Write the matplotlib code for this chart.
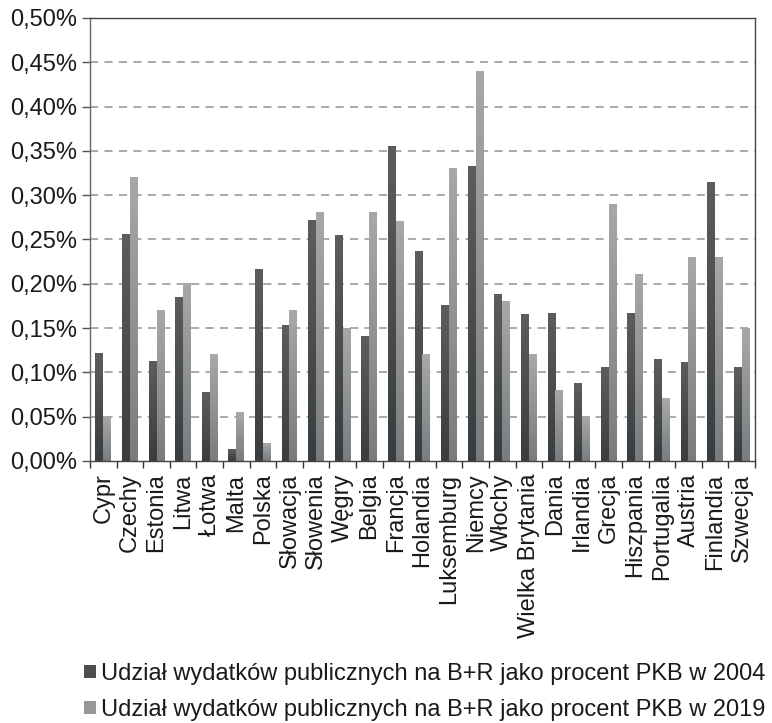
import numpy as np
import matplotlib
matplotlib.use("Agg")
import matplotlib.pyplot as plt
from matplotlib.colors import LinearSegmentedColormap
from matplotlib.patches import Patch
from matplotlib.ticker import FixedLocator, FuncFormatter

plt.rcParams['font.family'] = ['Liberation Sans', 'DejaVu Sans']

# data (share of GDP, %)
countries = ['Cypr', 'Czechy', 'Estonia', 'Litwa', 'Łotwa', 'Malta', 'Polska',
             'Słowacja', 'Słowenia', 'Węgry', 'Belgia', 'Francja', 'Holandia',
             'Luksemburg', 'Niemcy', 'Włochy', 'Wielka Brytania', 'Dania',
             'Irlandia', 'Grecja', 'Hiszpania', 'Portugalia', 'Austria',
             'Finlandia', 'Szwecja']
share_2004 = [0.121, 0.256, 0.112, 0.185, 0.077, 0.013, 0.216, 0.153, 0.272,
              0.254, 0.141, 0.355, 0.237, 0.175, 0.332, 0.188, 0.165, 0.166,
              0.088, 0.105, 0.166, 0.114, 0.111, 0.314, 0.105]
share_2019 = [0.05, 0.32, 0.17, 0.20, 0.12, 0.055, 0.02, 0.17, 0.28,
              0.15, 0.28, 0.27, 0.12, 0.33, 0.44, 0.18, 0.12, 0.08,
              0.05, 0.29, 0.21, 0.07, 0.23, 0.23, 0.15]
labels = ['Udział wydatków publicznych na B+R jako procent PKB w 2004',
          'Udział wydatków publicznych na B+R jako procent PKB w 2019']

fig = plt.figure(figsize=(7.72, 7.23), dpi=100)
ax = fig.add_axes([90/772, 1-461/723, (755-90)/772, (461-18)/723])

x = np.arange(len(countries))
w = 0.295
fs = 17

#gradient fill per bar (lighter top, darker bottom)
cm_dark = LinearSegmentedColormap.from_list('dark', ['#3a3d3f', '#5b5d5e'])
cm_light = LinearSegmentedColormap.from_list('light', ['#797c7e', '#a6a8a9'])
grad = np.linspace(1, 0, 256).reshape(-1, 1)

def gradient_bars(xs, heights, cmap):
    bars = ax.bar(xs, heights, w, color='none', edgecolor='none', zorder=2)
    for rect in bars:
        x0 = rect.get_x()
        ax.imshow(grad, extent=[x0, x0 + rect.get_width(), 0, rect.get_height()],
                  cmap=cmap, aspect='auto', zorder=2, interpolation='bilinear')
    return bars

gradient_bars(x - w/2, share_2004, cm_dark)
gradient_bars(x + w/2, share_2019, cm_light)

ax.set_xlim(-0.5, len(countries) - 0.5)
ax.set_ylim(0, 0.5)

#grid + axis styling
for v in np.arange(0.05, 0.5, 0.05):
    ax.axhline(v, color='#a3a3a3', lw=1.3, ls=(0, (4.5, 3.5)), zorder=1)

ax.set_yticks(np.arange(0, 0.501, 0.05))
ax.yaxis.set_major_formatter(FuncFormatter(lambda v, p: f"{v:.2f}%".replace('.', ',')))
ax.tick_params(axis='y', length=6, width=1, color='#555555', labelsize=fs,
               labelcolor='#1a1a1a', pad=3)

ax.set_xticks(x)
ax.set_xticklabels(countries, rotation=90, fontsize=fs, color='#1a1a1a')
ax.xaxis.set_minor_locator(FixedLocator(np.arange(-0.5, len(countries), 1)))
ax.tick_params(axis='x', which='major', length=0, pad=9)
ax.tick_params(axis='x', which='minor', length=5, width=1, color='#333333')

for side in ['left', 'right', 'top', 'bottom']:
    ax.spines[side].set_color('#444444')
    ax.spines[side].set_linewidth(1)
ax.spines['left'].set_color('#666666')

handles = [Patch(facecolor='#4b4d4f'), Patch(facecolor='#959799')]
fig.legend(handles, labels, loc='upper left', bbox_to_anchor=(84/772, 1-663/723),
           frameon=False, fontsize=fs, handlelength=0.5, handleheight=0.5,
           handletextpad=0.2, labelspacing=0.58, borderaxespad=0, borderpad=0,
           labelcolor='#1a1a1a')

fig.savefig('out.png', dpi=100)
